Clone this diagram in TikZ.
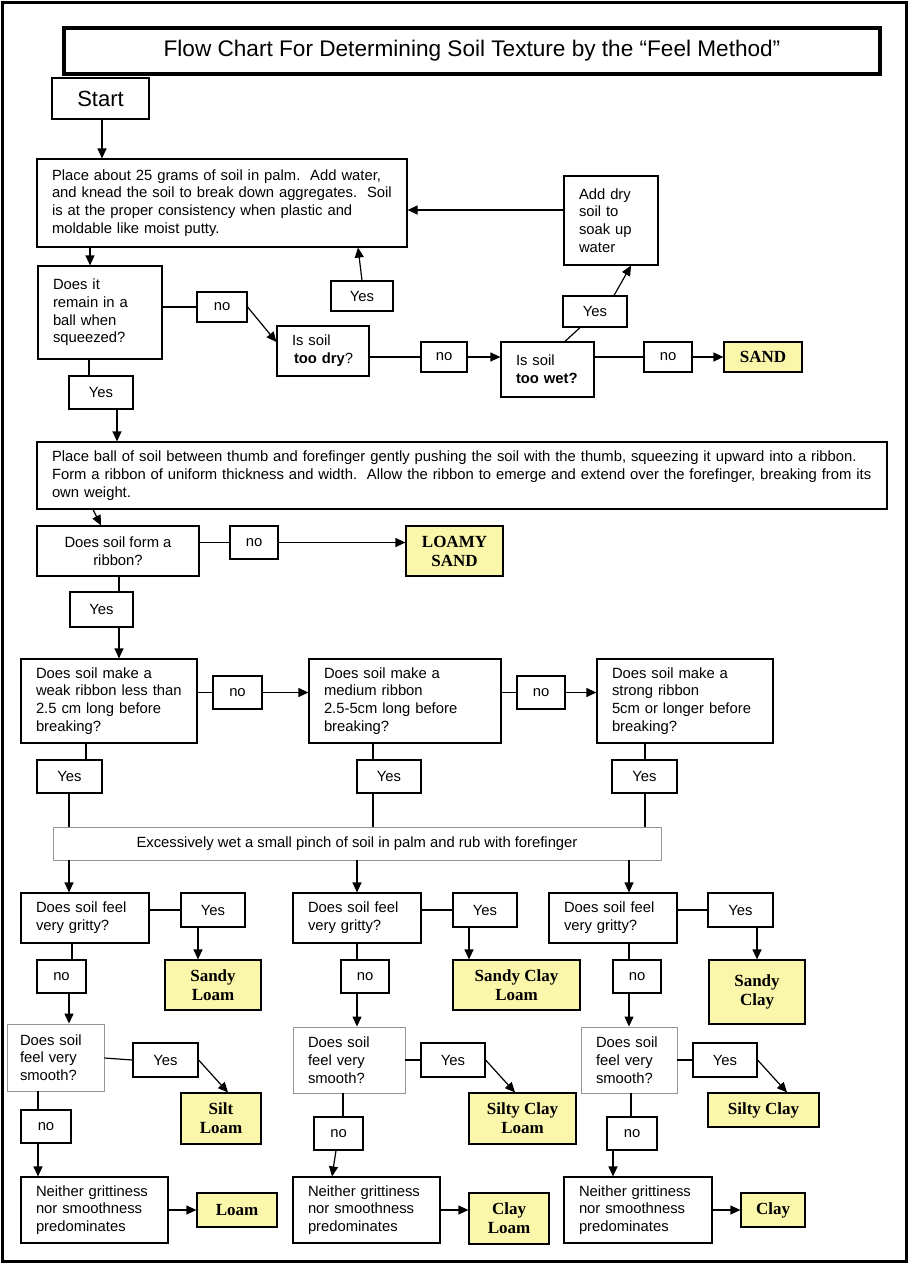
\documentclass[tikz,border=0pt]{standalone}
\usepackage{fontspec}
\setmainfont{Liberation Sans}
\newfontfamily\serifb{Liberation Serif}
\usetikzlibrary{arrows.meta,calc}
\definecolor{resy}{RGB}{250,246,170}
\definecolor{gb}{RGB}{150,150,150}
\newcommand\nbx[1]{\mbox{#1}}
\newcommand\mkbox[7]{%
 \pgfmathsetmacro\bw{#5-#3}%
 \pgfmathsetmacro\bh{#6-#4}%
 \pgfmathsetmacro\bcx{(#3+#5)/2}%
 \pgfmathsetmacro\bcy{(#4+#6)/2}%
 \pgfmathsetmacro\btw{#5-#3-30}%
 \node[#2] (#1) at (\bcx,\bcy) {#7};}
\begin{document}
\begin{tikzpicture}[x=1pt,y=-1pt,
  every node/.style={font=\fontsize{14.8}{17.7}\selectfont, line width=1.2pt},
  lbox/.style={draw, inner xsep=15pt, inner ysep=0pt, text width=\btw pt, minimum height=\bh pt, align=left},
  cbox/.style={draw, inner sep=0pt, minimum width=\bw pt, minimum height=\bh pt, align=center},
  graybox/.style={draw=gb, line width=0.9pt},
  res/.style={cbox, fill=resy, font=\serifb\bfseries\fontsize{17}{19}\selectfont},
  arr/.style={line width=1.2pt, -{Triangle[length=10pt,width=9pt]}},
  ln/.style={line width=1.2pt},
]
\useasboundingbox (0,0) rectangle (914,1264);
\fill[white] (0,0) rectangle (914,1264);
\draw[line width=3pt] (2,2) rectangle (906.5,1261);

% title and start
\mkbox{title}{cbox, line width=4pt, font=\fontsize{22.6}{26}\selectfont}{64}{28}{880}{74}{Flow Chart For Determining Soil Texture by the “Feel Method”}
\mkbox{start}{cbox, font=\fontsize{22}{26}\selectfont}{52}{78}{149}{119}{Start}

% first part
\mkbox{b1}{lbox}{37}{159}{407}{247}{\nbx{Place about 25 grams of soil in palm.\ \ Add water,}\\\nbx{and knead the soil to break down aggregates.\ \ Soil}\\\nbx{is at the proper consistency when plastic and}\\\nbx{moldable like moist putty.}}
\mkbox{adddry}{lbox}{564}{176}{658}{265}{Add dry\\soil to\\soak up\\water}
\mkbox{yes1}{cbox}{331}{281}{393}{311}{Yes}
\mkbox{q1}{lbox}{38}{266}{162}{359}{\nbx{Does it}\\\nbx{remain in a}\\\nbx{ball when}\\\nbx{squeezed?}}
\mkbox{no1}{cbox}{197}{292}{247}{322}{no}
\mkbox{dry}{lbox}{277}{326}{369}{376}{\nbx{Is soil}\\\nbx{\hspace*{2pt}\textbf{too dry}?}}
\mkbox{no2}{cbox}{421}{342}{467}{372}{no}
\mkbox{wet}{lbox}{501}{342}{594}{397}{\nbx{Is soil}\\\nbx{\textbf{too wet?}}}
\mkbox{yes2}{cbox}{563}{296}{627}{327}{Yes}
\mkbox{no3}{cbox}{644}{342}{692}{372}{no}
\mkbox{sand}{res}{724}{342}{802}{372}{SAND}
\mkbox{yes3}{cbox}{69}{376}{133}{409}{Yes}

% ribbon part
\mkbox{b2}{lbox}{37}{442}{887}{509}{\nbx{Place ball of soil between thumb and forefinger gently pushing the soil with the thumb, squeezing it upward into a ribbon.}\\\nbx{Form a ribbon of uniform thickness and width.\ \ Allow the ribbon to emerge and extend over the forefinger, breaking from its}\\\nbx{own weight.}}
\mkbox{q2}{cbox}{37}{526}{199}{576}{Does soil form a\\ribbon?}
\mkbox{no4}{cbox}{230}{526}{278}{559}{no}
\mkbox{lsand}{res}{406}{526}{503}{576}{LOAMY\\SAND}
\mkbox{yes4}{cbox}{70}{592}{133}{627}{Yes}

\mkbox{weak}{lbox}{21}{659}{197}{743}{\nbx{Does soil make a}\\\nbx{weak ribbon less than}\\\nbx{2.5 cm long before}\\\nbx{breaking?}}
\mkbox{no5}{cbox}{213}{676}{262}{709}{no}
\mkbox{medium}{lbox}{309}{659}{501}{743}{\nbx{Does soil make a}\\\nbx{medium ribbon}\\\nbx{2.5-5cm long before}\\\nbx{breaking?}}
\mkbox{no6}{cbox}{517}{676}{565}{709}{no}
\mkbox{strong}{lbox}{597}{659}{773}{743}{\nbx{Does soil make a}\\\nbx{strong ribbon}\\\nbx{5cm or longer before}\\\nbx{breaking?}}
\mkbox{yesw}{cbox}{37}{760}{102}{793}{Yes}
\mkbox{yesm}{cbox}{357}{760}{421}{793}{Yes}
\mkbox{yess}{cbox}{612}{760}{677}{793}{Yes}

\mkbox{wetbox}{cbox, graybox}{53}{827}{661}{860}{Excessively wet a small pinch of soil in palm and rub with forefinger}

% gritty
\mkbox{gA}{lbox}{21}{893}{149}{943}{\nbx{Does soil feel}\\\nbx{very gritty?}}
\mkbox{gB}{lbox}{293}{893}{421}{943}{\nbx{Does soil feel}\\\nbx{very gritty?}}
\mkbox{gC}{lbox}{549}{893}{677}{943}{\nbx{Does soil feel}\\\nbx{very gritty?}}
\mkbox{ygA}{cbox}{181}{893}{245}{927}{Yes}
\mkbox{ygB}{cbox}{453}{893}{517}{927}{Yes}
\mkbox{ygC}{cbox}{708}{893}{773}{927}{Yes}
\mkbox{sl}{res}{165}{960}{261}{1010}{Sandy\\Loam}
\mkbox{scl}{res}{453}{960}{580}{1010}{Sandy Clay\\Loam}
\mkbox{sc}{res}{709}{960}{805}{1024}{Sandy\\Clay}
\mkbox{ngA}{cbox}{37}{960}{86}{993}{no}
\mkbox{ngB}{cbox}{341}{960}{389}{993}{no}
\mkbox{ngC}{cbox}{613}{960}{661}{993}{no}

% smooth
\mkbox{sA}{lbox, graybox, inner xsep=13pt}{5}{1024}{106}{1091}{\nbx{Does soil}\\\nbx{feel very}\\\nbx{smooth?}}
\mkbox{sB}{lbox, graybox}{293}{1027}{405}{1093}{\nbx{Does soil}\\\nbx{feel very}\\\nbx{smooth?}}
\mkbox{sC}{lbox, graybox}{581}{1027}{677}{1093}{\nbx{Does soil}\\\nbx{feel very}\\\nbx{smooth?}}
\mkbox{ysA}{cbox}{133}{1043}{198}{1077}{Yes}
\mkbox{ysB}{cbox}{421}{1043}{485}{1077}{Yes}
\mkbox{ysC}{cbox}{693}{1043}{757}{1077}{Yes}
\mkbox{siltl}{res}{181}{1093}{261}{1144}{Silt\\Loam}
\mkbox{sicl}{res}{469}{1093}{576}{1144}{Silty Clay\\Loam}
\mkbox{sic}{res}{708}{1093}{819}{1127}{Silty Clay}
\mkbox{nsA}{cbox}{21}{1110}{71}{1143}{no}
\mkbox{nsB}{cbox}{314}{1117}{363}{1150}{no}
\mkbox{nsC}{cbox}{607}{1117}{657}{1150}{no}

% neither
\mkbox{nA}{lbox}{21}{1177}{168}{1243}{\nbx{Neither grittiness}\\\nbx{nor smoothness}\\\nbx{predominates}}
\mkbox{nB}{lbox}{293}{1177}{440}{1243}{\nbx{Neither grittiness}\\\nbx{nor smoothness}\\\nbx{predominates}}
\mkbox{nC}{lbox}{564}{1177}{712}{1243}{\nbx{Neither grittiness}\\\nbx{nor smoothness}\\\nbx{predominates}}
\mkbox{loam}{res}{197}{1193}{277}{1227}{Loam}
\mkbox{cl}{res}{469}{1193}{549}{1244}{Clay\\Loam}
\mkbox{clay}{res}{741}{1193}{805}{1227}{Clay}

% connectors
\draw[arr] (start.south -| 102,0) -- (b1.north -| 102,0);
\draw[arr] (adddry.west |- 0,210) -- (b1.east |- 0,210);
\draw[arr] (yes1.north) -- (b1.south -| 358,0);
\draw[arr] (b1.south -| 90,0) -- (q1.north -| 90,0);
\draw[ln] (q1.east |- no1.west) -- (no1.west);
\draw[arr] (no1.east) -- (dry.west |- 0,342);
\draw[ln] (dry.east |- no2.west) -- (no2.west);
\draw[arr] (no2.east) -- (wet.west |- no2.east);
\draw[ln] (wet.north -| 565,0) -- (yes2.south -| 580,0);
\draw[arr] (yes2.north -| 614,0) -- (adddry.south -| 631,0);
\draw[ln] (wet.east |- no3.west) -- (no3.west);
\draw[arr] (no3.east) -- (sand.west);
\draw[ln] (q1.south -| 89,0) -- (yes3.north -| 89,0);
\draw[arr] (yes3.south -| 117,0) -- (b2.north -| 117,0);
\draw[arr] (b2.south -| 93,0) -- (q2.north -| 101,0);
\draw[ln] (q2.east |- no4.west) -- (no4.west);
\draw[arr] (no4.east) -- (lsand.west |- no4.east);
\draw[ln] (q2.south -| 119,0) -- (yes4.north -| 119,0);
\draw[arr] (yes4.south -| 119,0) -- (weak.north -| 119,0);
\draw[ln] (weak.east |- no5.west) -- (no5.west);
\draw[arr] (no5.east) -- (medium.west |- no5.east);
\draw[ln] (medium.east |- no6.west) -- (no6.west);
\draw[arr] (no6.east) -- (strong.west |- no6.east);
\draw[ln] (weak.south -| 86,0) -- (yesw.north -| 86,0);
\draw[ln] (yesw.south -| 69,0) -- (wetbox.north -| 69,0);
\draw[ln] (medium.south -| 373,0) -- (yesm.north -| 373,0);
\draw[ln] (yesm.south -| 373,0) -- (wetbox.north -| 373,0);
\draw[ln] (strong.south -| 645,0) -- (yess.north -| 645,0);
\draw[ln] (yess.south -| 645,0) -- (wetbox.north -| 645,0);
\draw[arr] (wetbox.south -| 69,0) -- (gA.north -| 69,0);
\draw[arr] (wetbox.south -| 357,0) -- (gB.north -| 357,0);
\draw[arr] (wetbox.south -| 629,0) -- (gC.north -| 629,0);
% gritty -> yes -> result
\draw[ln] (gA.east |- ygA.west) -- (ygA.west);
\draw[ln] (gB.east |- ygB.west) -- (ygB.west);
\draw[ln] (gC.east |- ygC.west) -- (ygC.west);
\draw[arr] (ygA.south -| 198,0) -- (sl.north -| 198,0);
\draw[arr] (ygB.south -| 469,0) -- (scl.north -| 469,0);
\draw[arr] (ygC.south -| 757,0) -- (sc.north -| 757,0);
% gritty -> no -> smooth
\draw[ln] (gA.south -| 72,0) -- (ngA.north -| 72,0);
\draw[arr] (ngA.south -| 69,0) -- (sA.north -| 69,0);
\draw[ln] (gB.south -| 357,0) -- (ngB.north -| 357,0);
\draw[arr] (ngB.south -| 357,0) -- (sB.north -| 357,0);
\draw[ln] (gC.south -| 629,0) -- (ngC.north -| 629,0);
\draw[arr] (ngC.south -| 629,0) -- (sC.north -| 629,0);
% smooth -> yes -> result
\draw[ln] (sA.east |- 0,1058) -- (ysA.west);
\draw[ln] (sB.east |- ysB.west) -- (ysB.west);
\draw[ln] (sC.east |- ysC.west) -- (ysC.west);
\draw[arr] (ysA.east) -- (siltl.north -| 228,0);
\draw[arr] (ysB.east) -- (sicl.north -| 515,0);
\draw[arr] (ysC.east) -- (sic.north -| 787,0);
% smooth -> no -> neither
\draw[ln] (sA.south -| 38,0) -- (nsA.north -| 38,0);
\draw[arr] (nsA.south -| 38,0) -- (nA.north -| 38,0);
\draw[ln] (sB.south -| 343,0) -- (nsB.north -| 343,0);
\draw[arr] (nsB.south -| 336,0) -- (nB.north -| 332,0);
\draw[ln] (sC.south -| 631,0) -- (nsC.north -| 631,0);
\draw[arr] (nsC.south -| 613,0) -- (nC.north -| 613,0);
% neither -> result
\draw[arr] (nA.east) -- (loam.west);
\draw[arr] (nB.east) -- (cl.west |- nB.east);
\draw[arr] (nC.east) -- (clay.west);
\end{tikzpicture}
\end{document}
